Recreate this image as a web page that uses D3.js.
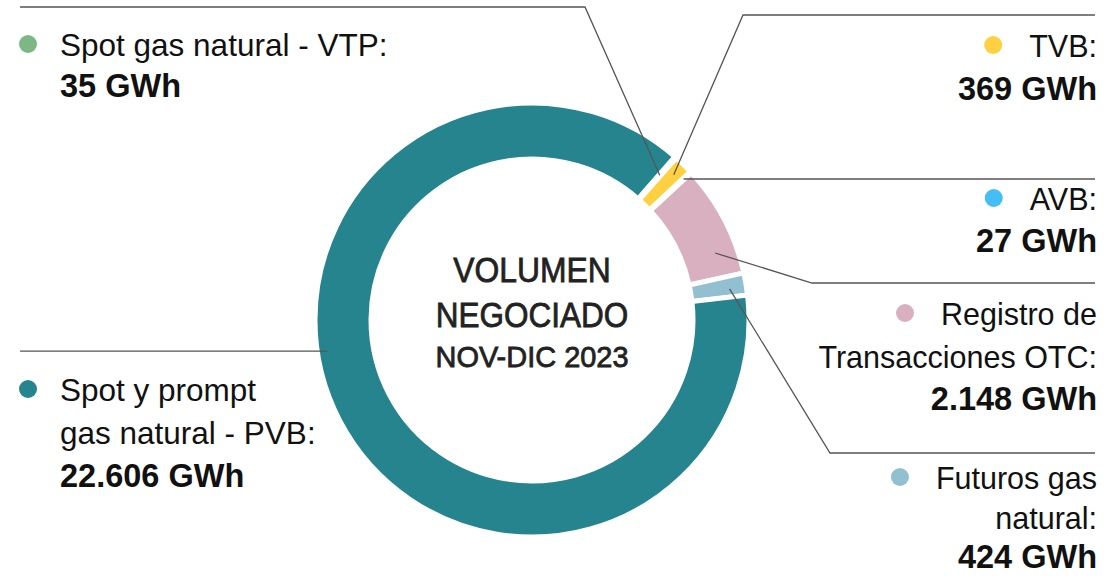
<!DOCTYPE html>
<html>
<head>
<meta charset="utf-8">
<script src="https://cdn.jsdelivr.net/npm/d3@7"></script>
<style>
  body { margin: 0; background: #fff; }
  svg text { font-family: "Liberation Sans", Arial, sans-serif; }
</style>
</head>
<body>
<div id="chart"></div>
<script>
// data
const categories = ["Spot gas natural - VTP", "TVB", "AVB", "Registro de Transacciones OTC", "Futuros gas natural", "Spot y prompt gas natural - PVB"];
const values = [35, 369, 27, 2148, 424, 22606];
const colors = ["#7db884", "#ffd140", "#45bef6", "#d9b0bf", "#93c0d0", "#26848f"];
const labelLines = [
    ["Spot gas natural - VTP:"],
    ["TVB:"],
    ["AVB:"],
    ["Registro de", "Transacciones OTC:"],
    ["Futuros gas", "natural:"],
    ["Spot y prompt", "gas natural - PVB:"]
];
const valueLabels = ["35 GWh", "369 GWh", "27 GWh", "2.148 GWh", "424 GWh", "22.606 GWh"];
const centerLines = ["VOLUMEN", "NEGOCIADO", "NOV-DIC 2023"];

// layout of the callouts (where the label sits, where the leader line bends)
const callouts = [
    { side: "left",  y: 56,  lineY: 7,   elbowX: 585, frac: 0.5,  r: 193, lh: 41 },
    { side: "right", y: 57,  lineY: 15,  elbowX: 743, frac: 0.5,  r: 203, lh: 43 },
    { side: "right", y: 210, lineY: null, elbowX: null, frac: 0.5, r: 207, lh: 42 },
    { side: "right", y: 325, lineY: 283, elbowX: 812, frac: 0.75, r: 195, lh: 42.5 },
    { side: "right", y: 489, lineY: 453, elbowX: 830, frac: 0.6,  r: 200, lh: 39.5 },
    { side: "left",  y: 401, lineY: null, elbowX: null, frac: 0.56, r: 207, lh: 43 }
];

const width = 1120, height = 576;
const cx = 532, cy = 320;
const outerR = 217, innerR = 161;
const leftText = 60, leftDot = 28, rightText = 1097;
const lineLeft = 20, lineRight = 1095;

const svg = d3.select("#chart").append("svg")
    .attr("width", width)
    .attr("height", height);

const items = categories.map((c, i) => ({ name: c, value: values[i], color: colors[i], i: i }));

const start = 41.2 * Math.PI / 180;
const pie = d3.pie()
    .value(d => d.value)
    .sort(null)
    .startAngle(start)
    .endAngle(start + 2 * Math.PI);

const arc = d3.arc().innerRadius(innerR).outerRadius(outerR);
const arcs = pie(items);

const g = svg.append("g").attr("transform", `translate(${cx},${cy})`);

g.selectAll("path.slice")
    .data(arcs)
    .enter().append("path")
    .attr("class", "slice")
    .attr("d", arc)
    .style("fill", d => d.data.color)
    .style("stroke", "#fff")
    .style("stroke-width", 5)
    .style("stroke-linejoin", "miter");

// center text
const center = svg.append("g").attr("transform", `translate(${cx},0)`);
const centerStyle = [
    { y: 282, size: 36, sx: 0.885 },
    { y: 327, size: 36, sx: 0.875 },
    { y: 367, size: 30, sx: 0.965 }
];
centerLines.forEach((t, i) => {
    center.append("text")
        .attr("transform", `translate(0,${centerStyle[i].y}) scale(${centerStyle[i].sx},1)`)
        .attr("text-anchor", "middle")
        .style("font-size", centerStyle[i].size + "px")
        .style("fill", "#222")
        .style("stroke", "#222")
        .style("stroke-width", 0.8)
        .text(t);
});

// leader lines
const lines = svg.append("g")
    .style("fill", "none")
    .style("stroke", "#555")
    .style("stroke-width", 1.3);

arcs.forEach((a, i) => {
    const co = callouts[i];
    const ang = a.startAngle + co.frac * (a.endAngle - a.startAngle);
    const px = cx + co.r * Math.sin(ang);
    const py = cy - co.r * Math.cos(ang);
    const endX = co.side === "left" ? lineLeft : lineRight;
    let pts;
    if (co.elbowX === null) {
        pts = [[px, py], [endX, py]];
    } else {
        pts = [[px, py], [co.elbowX, co.lineY], [endX, co.lineY]];
    }
    lines.append("path").attr("d", d3.line()(pts));
});

// labels
const labels = svg.append("g");
arcs.forEach((a, i) => {
    const co = callouts[i];
    const isLeft = co.side === "left";
    const x = isLeft ? leftText : rightText;
    const lab = labels.append("g");
    const rows = labelLines[i];
    let first;
    rows.forEach((t, k) => {
        const txt = lab.append("text")
            .attr("x", x)
            .attr("y", co.y + k * co.lh)
            .attr("text-anchor", isLeft ? "start" : "end")
            .style("font-size", isLeft ? "31.5px" : "30.5px")
            .style("fill", "#111")
            .text(t);
        if (k === 0) first = txt;
    });
    lab.append("text")
        .attr("x", x)
        .attr("y", co.y + rows.length * co.lh)
        .attr("text-anchor", isLeft ? "start" : "end")
        .style("font-size", "32.5px")
        .style("font-weight", "bold")
        .style("fill", "#111")
        .text(valueLabels[i]);

    const w = first.node().getComputedTextLength();
    const dotX = isLeft ? leftDot : rightText - w - 36;
    lab.append("circle")
        .attr("cx", dotX)
        .attr("cy", co.y - 12)
        .attr("r", 9)
        .style("fill", a.data.color);
});
</script>
</body>
</html>
